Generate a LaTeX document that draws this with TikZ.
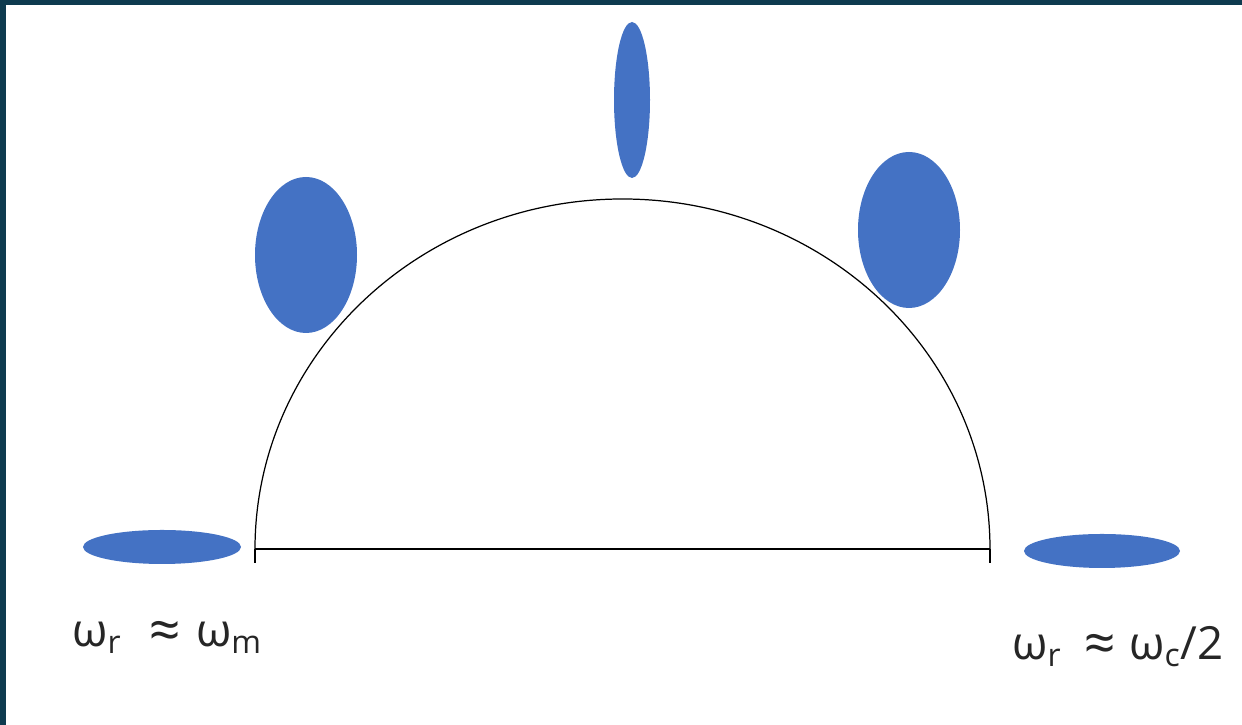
\documentclass[tikz,border=0pt]{standalone}
\usepackage{fontspec}
\setmainfont{Open Sans}
\usepackage{tikz}
\usetikzlibrary{shapes.geometric,positioning,calc}
\definecolor{frame}{HTML}{0E3B4F}
\definecolor{spot}{HTML}{4472C4}

\newcommand{\approxsign}{\raisebox{-0.05em}{\fontsize{31}{31}\selectfont ≈}}

\tikzset{
    spot/.style={ellipse, fill=spot, draw=none, inner sep=0pt},
    freq/.style={font=\fontsize{26}{30}\selectfont, text=black!85, inner sep=0pt}
}

\begin{document}
\begin{tikzpicture}
    % Frame
    \useasboundingbox (0,0) rectangle (24.84,14.5);
    \fill[frame] (0,0) rectangle (24.84,14.5);
    \fill[white] (0.12,0) rectangle (24.84,14.4);

    % Dome
    \coordinate (left) at (5.1,3.52);
    \coordinate (right) at (19.8,3.52);
    \draw[line width=0.7pt] (left) arc[start angle=180, end angle=0, x radius=7.35, y radius=7.0];
    \draw[line width=0.7pt] (left) -- (right);
    \draw[line width=0.7pt] (left) -- ++(0,-0.28);
    \draw[line width=0.7pt] (right) -- ++(0,-0.28);

    % Spots
    \node[spot, minimum width=3.16cm, minimum height=0.68cm] (s1) at (3.24,3.56) {};
    \node[spot, minimum width=2.04cm, minimum height=3.12cm] (s2) at (6.12,9.4) {};
    \node[spot, minimum width=0.72cm, minimum height=3.12cm] (s3) at (12.64,12.5) {};
    \node[spot, minimum width=2.04cm, minimum height=3.12cm] (s4) at (18.18,9.9) {};
    \node[spot, minimum width=3.12cm, minimum height=0.68cm] (s5) at (22.04,3.48) {};

    % Labels
    \node[freq, anchor=base west] (low) at (1.44,1.56)
        {ω\textsubscript{r}\hspace{0.6em}\approxsign\hspace{0.35em}ω\textsubscript{m}};
    \node[freq, anchor=base west] (high) at (20.24,1.3)
        {ω\textsubscript{r}\hspace{0.5em}\approxsign\hspace{0.3em}ω\textsubscript{c}/2};
\end{tikzpicture}
\end{document}
